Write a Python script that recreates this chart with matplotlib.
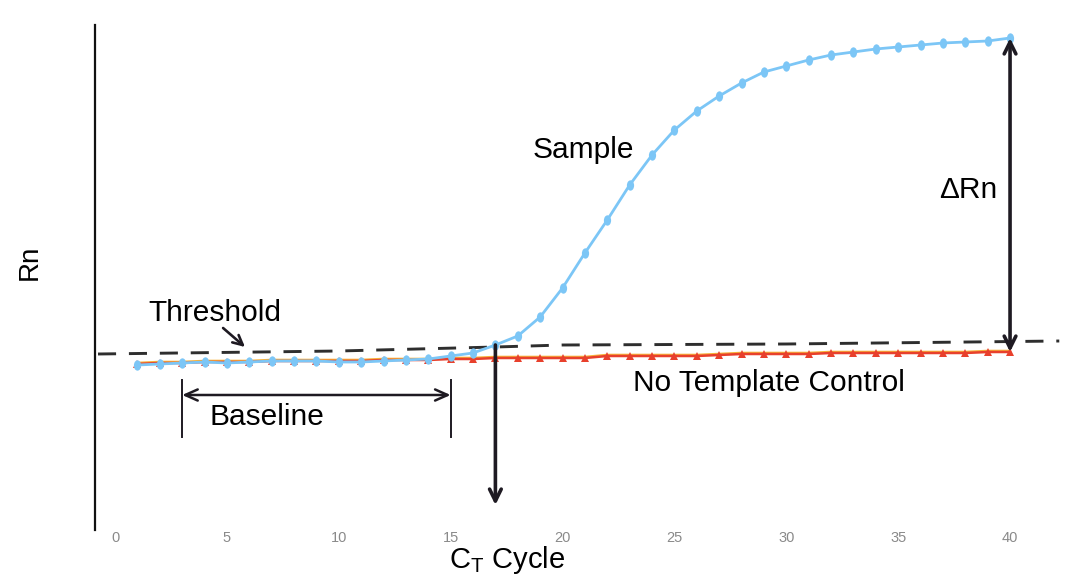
import matplotlib
matplotlib.use("Agg")
import matplotlib.pyplot as plt
import matplotlib.transforms as mtransforms
from matplotlib.markers import MarkerStyle

# === FUENTES ===
plt.rcParams['font.family'] = ['Liberation Sans', 'DejaVu Sans']
plt.rcParams['mathtext.fontset'] = 'custom'
plt.rcParams['mathtext.rm'] = 'Liberation Sans'
plt.rcParams['mathtext.it'] = 'Liberation Sans'

# === DATOS (ciclos de PCR y fluorescencia normalizada Rn) ===
cycles = list(range(1, 41))
sample_rn = [1.65, 1.66, 1.67, 1.68, 1.67, 1.68, 1.69, 1.69, 1.69, 1.68,
             1.68, 1.69, 1.70, 1.71, 1.74, 1.77, 1.85, 1.94, 2.13, 2.42,
             2.77, 3.10, 3.45, 3.75, 4.00, 4.19, 4.34, 4.47, 4.58, 4.64,
             4.70, 4.75, 4.78, 4.81, 4.83, 4.85, 4.87, 4.88, 4.89, 4.92]
ntc_rn = [1.66, 1.67, 1.67, 1.68, 1.68, 1.68, 1.69, 1.69, 1.69, 1.69,
          1.69, 1.70, 1.70, 1.70, 1.71, 1.71, 1.72, 1.72, 1.72, 1.72,
          1.72, 1.74, 1.74, 1.74, 1.74, 1.74, 1.75, 1.76, 1.76, 1.76,
          1.76, 1.77, 1.77, 1.77, 1.77, 1.77, 1.77, 1.77, 1.78, 1.78]
threshold_x = [-0.76, 10, 17, 20, 30, 42.2]
threshold_rn = [1.76, 1.79, 1.83, 1.85, 1.86, 1.89]
xticks = [0, 5, 10, 15, 20, 25, 30, 35, 40]
baseline_start, baseline_end = 3, 15
ct_cycle = 17

# === FIGURA ===
fig = plt.figure(figsize=(10.68, 5.75), dpi=100)
ax = fig.add_axes([95 / 1068, 45 / 575, 1 - 95 / 1068, 505 / 575])
ax.set_xlim(-0.894, 42.59)
ax.set_ylim(0, 5.05)

for s in ["top", "right", "bottom"]:
    ax.spines[s].set_visible(False)
ax.spines["left"].set_linewidth(1.6)
ax.spines["left"].set_color("#111111")
ax.set_yticks([])
ax.set_xticks(xticks)
ax.set_xticklabels([str(t) for t in xticks], fontsize=10.5, color="#8a8a8a")
ax.tick_params(axis="x", length=0, pad=1)

# linea de umbral
ax.plot(threshold_x, threshold_rn, color="#2e2e2e", lw=2.1,
        linestyle=(0, (6.2, 4.4)), zorder=2)

# control sin plantilla (linea naranja debajo de la roja)
shift = mtransforms.ScaledTranslation(0, 1.0 / 72, fig.dpi_scale_trans)
ax.plot(cycles, ntc_rn, color="#f6b13a", lw=1.3, zorder=3,
        transform=ax.transData + shift)
ax.plot(cycles, ntc_rn, color="#e8402c", lw=1.8, marker="^", markersize=6,
        markeredgewidth=0, zorder=4)

# muestra
oval = MarkerStyle("o", transform=mtransforms.Affine2D().scale(0.8, 1.15))
ax.plot(cycles, sample_rn, color="#7cc6f6", lw=2.0, marker=oval,
        markersize=6.5, markeredgewidth=0, zorder=5)

arrow_col = "#1e1a22"

# flecha delta Rn
ax.annotate("", xy=(40, sample_rn[-1]), xytext=(40, ntc_rn[-1]),
            arrowprops=dict(arrowstyle="<->,head_length=0.85,head_width=0.42",
                            color=arrow_col, lw=2.6, shrinkA=0, shrinkB=0),
            zorder=6)
ax.text(38.12, 3.40, "ΔRn", fontsize=21.5, ha="center", va="center")

# flecha Ct
ct_idx = cycles.index(ct_cycle)
ax.annotate("", xy=(ct_cycle, 0.25), xytext=(ct_cycle, sample_rn[ct_idx]),
            arrowprops=dict(arrowstyle="->,head_length=0.85,head_width=0.42",
                            color=arrow_col, lw=2.6, shrinkA=0, shrinkB=0),
            zorder=6)

# linea base
ax.annotate("", xy=(baseline_start, 1.35), xytext=(baseline_end, 1.35),
            arrowprops=dict(arrowstyle="<->,head_length=0.9,head_width=0.4",
                            color=arrow_col, lw=1.8, shrinkA=0, shrinkB=0))
ax.plot([baseline_start, baseline_start], [0.93, 1.50], color=arrow_col, lw=1.4)
ax.plot([baseline_end, baseline_end], [0.93, 1.50], color=arrow_col, lw=1.4)
ax.text(6.79, 1.13, "Baseline", fontsize=21.5, ha="center", va="center")

# etiqueta del umbral
ax.annotate("", xy=(5.81, 1.83), xytext=(4.83, 2.02),
            arrowprops=dict(arrowstyle="->,head_length=0.7,head_width=0.35",
                            color=arrow_col, lw=1.9, shrinkA=0, shrinkB=0))
ax.text(4.47, 2.17, "Threshold", fontsize=21.5, ha="center", va="center")

ax.text(20.92, 3.80, "Sample", fontsize=21.5, ha="center", va="center")
ax.text(29.23, 1.47, "No Template Control", fontsize=21.5, ha="center", va="center")

# titulos de ejes
fig.text(507 / 1068, 1 - 560 / 575, r"C$_\mathrm{T}$ Cycle", fontsize=21,
         ha="center", va="center")
fig.text(30 / 1068, 1 - 262 / 575, "Rn", fontsize=20, rotation=90,
         ha="center", va="center")

fig.savefig("out.png", dpi=100)
